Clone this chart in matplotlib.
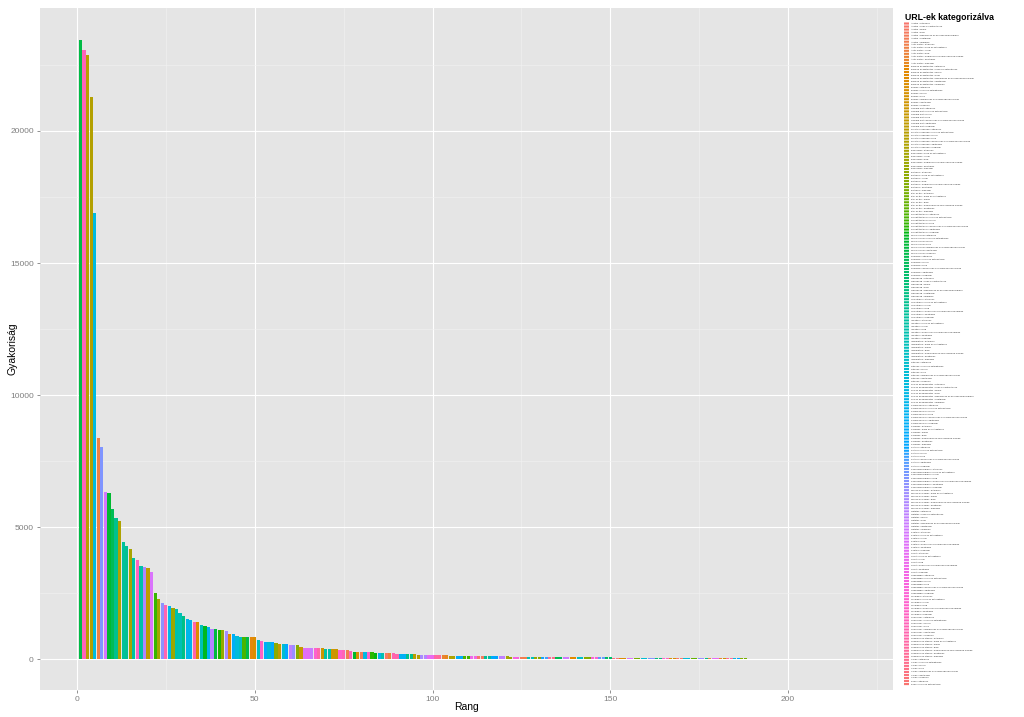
# URL-kategóriák gyakorisága rang szerint (ggplot2-stílusú oszlopdiagram)
import numpy as np
import matplotlib
matplotlib.use("Agg")
import matplotlib.pyplot as plt
from matplotlib.patches import Rectangle

# --- adatok ---
# gyakoriság rang szerint (1. rang az első elem)
freq = [
    23450, 23070, 22880, 21290, 16890, 8360, 8040, 6340, 6300, 5670,
    5330, 5240, 4420, 4290, 4170, 3840, 3750, 3530, 3500, 3460,
    3310, 2490, 2260, 2130, 2050, 2020, 1920, 1890, 1750, 1630,
    1515, 1480, 1400,
    1389, 1276, 1238, 1200, 1149, 1137, 1111, 1099, 1074,
    960, 947, 859, 846, 846, 834, 834, 821,
    707, 669, 657, 644, 632, 606, 581, 556, 556, 543, 530, 530,
    455, 429, 429, 417, 417, 417, 404, 392, 379, 366, 366, 354,
    341, 328, 303, 278, 278, 265, 265, 253, 253, 240, 240, 227, 227,
    215, 215, 202, 202, 189, 189, 177, 177, 164, 164, 164,
    152, 152, 152, 139, 139, 139, 132, 130, 129,
    128, 125, 122, 119, 116, 113, 110, 108, 106, 104, 102, 100, 98,
    96, 94, 92, 90, 88, 86, 84, 82, 80, 78, 77, 76, 75, 74, 73,
    72, 71, 70, 69, 68, 67, 66, 65, 64, 63, 62, 61, 60, 59, 58,
    57, 56, 55, 54, 53, 52, 51, 50, 49, 48, 47, 46, 45, 44, 43,
    42, 41, 40, 39, 38, 37, 36, 35, 34, 33, 32, 31, 30, 29, 28,
    27, 26, 25, 24, 23, 22, 21, 20, 19, 18, 17, 16, 15, 14, 13, 12, 11, 10,
    2, 2, 2, 2, 2, 2, 1, 1, 1, 1, 1, 1, 1, 1, 1, 1, 1, 1, 1, 1, 1,
]

# melyik kategória (jelmagyarázat-sorszám) tartozik az egyes rangokhoz
bar_category = [
    75, 198, 36, 38, 120, 8, 150, 168, 72, 78,
    92, 40, 96, 94, 42, 98, 196, 100, 158, 34,
    170, 66, 44, 152, 200, 126, 46, 102, 104, 90,
    124, 128, 202, 18, 106, 70, 130, 160, 74, 68,
    48, 156, 16, 132, 118, 108, 64, 76, 14, 20,
    110, 194, 134, 116, 136, 50, 32, 114, 138, 162,
    154, 52, 30, 172, 174, 164, 190, 204, 28,
    99, 101, 27, 29, 192, 199, 6, 197, 71, 22,
    4, 121, 193, 67, 69, 127, 103, 2, 10, 201,
    203, 129, 131, 91, 93, 35, 37, 157, 159, 175,
    177, 205, 207, 11, 13, 39, 41, 133, 135, 63,
    65, 179, 181, 1, 3, 95, 97, 137, 139, 161,
    163, 43, 45, 183, 185, 5, 7, 105, 107, 47,
    49, 141, 143, 209, 211, 77, 79, 165, 167, 15,
    17, 109, 111, 51, 53, 187, 189, 145, 147, 81,
    83, 213, 215, 19, 21, 169, 171, 55, 57, 113,
    115, 149, 151, 85, 87, 191, 195, 23, 25, 217,
    0, 117, 119, 59, 61, 153, 155, 89, 9, 173,
    176, 12, 31, 206, 208, 122, 140, 54, 56, 142,
    144, 80, 82, 178, 180, 24, 26, 210, 212, 112,
    123, 58, 60, 146, 148, 84, 86, 182, 184, 33,
    214, 216, 218, 186, 188, 166, 62, 88, 125, 73,
]

# jelmagyarázat címkéi (fő- és alkategóriák)
main_cats = [
    "Állatok", "Autó-motor", "Bankok és biztosítók", "Blogok", "Családi élet",
    "Divat és szépség", "Egészség", "Életmód", "Étel és ital", "Felnőtt tartalom",
    "Film és mozi", "Fórumok", "Gazdaság", "Hírportálok", "Ingatlan",
    "Informatika", "Játékok", "Jog és közigazgatás", "Kereskedelem", "Keresők",
    "Kultúra", "Közösségi oldalak", "Munka és karrier", "Oktatás", "Politika",
    "Sport", "Szabadidő", "Technika", "Tudomány", "Turizmus és utazás",
    "Vallás", "Zene",
]
sub_cats = ["általános", "hírek és aktualitások", "fórum", "blog",
            "webáruház és kereskedelmi oldalak", "adatbázis", "magazin"]

n_cat = 219
labels = [m + " / " + s for m in main_cats for s in sub_cats][:n_cat]


# ggplot2 alapértelmezett színskálája: hcl(h, c=100, l=65)
def hue_pal(n, c=100.0, l=65.0):
    h = np.linspace(15, 375 - 360.0 / n, n) % 360
    hr = np.deg2rad(h)
    U = c * np.cos(hr)
    V = c * np.sin(hr)
    Xn, Yn, Zn = 95.047, 100.0, 108.883
    Y = Yn * ((l + 16) / 116) ** 3
    un = 4 * Xn / (Xn + 15 * Yn + 3 * Zn)
    vn = 9 * Yn / (Xn + 15 * Yn + 3 * Zn)
    u = U / (13 * l) + un
    v = V / (13 * l) + vn
    X = 9.0 * Y * u / (4 * v)
    Z = -X / 3 - 5 * Y + 3 * Y / v
    X, Y, Z = X / 100, Y / 100, Z / 100
    R = 3.240479 * X - 1.537150 * Y - 0.498535 * Z
    G = -0.969256 * X + 1.875992 * Y + 0.041556 * Z
    B = 0.055648 * X - 0.204043 * Y + 1.057311 * Z
    rgb = np.stack([R, G, B], axis=1)
    rgb = np.where(rgb > 0.00304, 1.055 * np.abs(rgb) ** (1 / 2.4) - 0.055, 12.92 * rgb)
    return np.clip(rgb, 0, 1)


palette = hue_pal(n_cat)
ranks = np.arange(1, len(freq) + 1)
colors = [palette[k] for k in bar_category]

plt.rcParams["font.family"] = ["Liberation Sans", "DejaVu Sans"]

W, H = 1024, 717
fig = plt.figure(figsize=(W / 100, H / 100), dpi=100)
ax = fig.add_axes([40 / W, 1 - 690 / H, 853 / W, 682 / H])

ax.set_facecolor("#E5E5E5")
for s in ax.spines.values():
    s.set_visible(False)

ax.bar(ranks, freq, width=0.9, color=colors, linewidth=0, zorder=3)

ax.set_xlim(-10.4, 229.5)
ax.set_ylim(-1174, 24659)
ax.set_xticks([0, 50, 100, 150, 200])
ax.set_xticks([25, 75, 125, 175, 225], minor=True)
ax.set_yticks([0, 5000, 10000, 15000, 20000])
ax.set_yticks([2500, 7500, 12500, 17500, 22500], minor=True)

ax.grid(which="major", color="white", linewidth=0.8, zorder=1)
ax.grid(which="minor", color="#F2F2F2", linewidth=0.4, zorder=1)
ax.set_axisbelow(True)

ax.tick_params(which="major", length=2.5, width=0.6, color="#7F7F7F",
               labelcolor="#7F7F7F", labelsize=6, pad=2)
ax.tick_params(which="minor", length=0)

# tengelyfeliratok
fig.text(466.5 / W, 1 - 707 / H, "Rang", ha="center", va="center", fontsize=7.5)
fig.text(12 / W, 1 - 349 / H, "Gyakoriság", ha="center", va="center",
         rotation=90, fontsize=7.5)

# jelmagyarázat kézzel
fig.text(905 / W, 1 - 17 / H, "URL-ek kategorizálva", ha="left", va="center",
         fontsize=6.3, fontweight="bold")
row_h = 3.03
top = 22.0
for i, lab in enumerate(labels):
    y = top + i * row_h
    fig.add_artist(Rectangle((904 / W, 1 - (y + row_h * 0.85) / H), 5 / W, (row_h * 0.7) / H,
                             transform=fig.transFigure, facecolor=palette[i],
                             edgecolor="none", snap=False))
    fig.text(911 / W, 1 - (y + row_h / 2) / H, lab, ha="left", va="center",
             fontsize=1.7, color="#333333")

fig.savefig("out.png", dpi=100)
